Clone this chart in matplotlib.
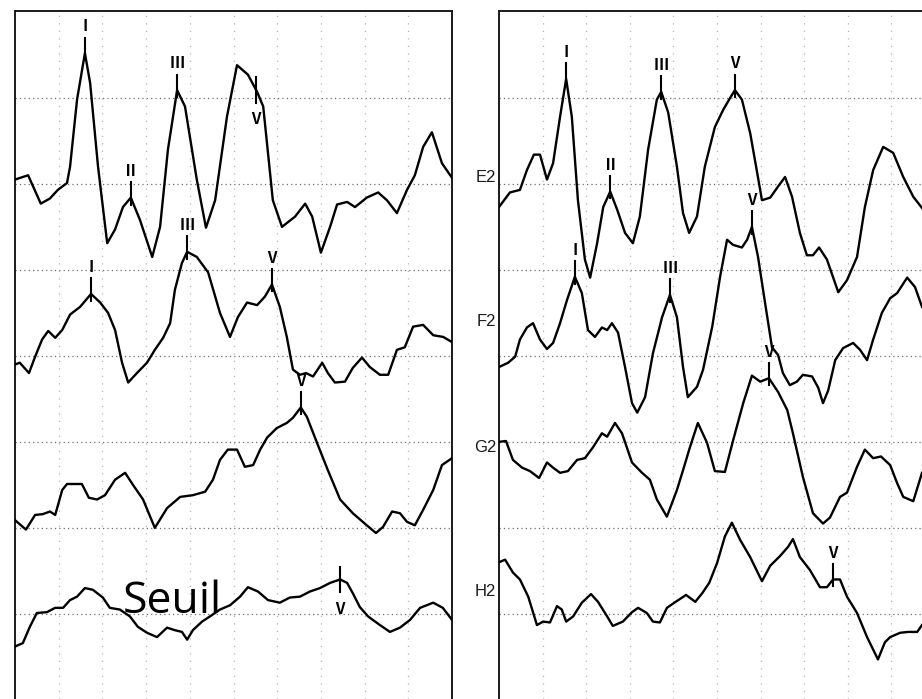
import numpy as np
import matplotlib.pyplot as plt

# ABR recordings, time in ms, amplitude in screen divisions
# left column: 4 stimulus levels down to threshold ("Seuil")
t_a = [0, 0.30, 0.59, 0.80, 0.98, 1.19, 1.26, 1.42, 1.60, 1.72, 1.90, 2.11, 2.29, 2.47, 2.65, 2.86,
       3.14, 3.32, 3.50, 3.71, 3.89, 4.16, 4.37, 4.58, 4.85, 5.08, 5.33, 5.54, 5.68, 5.90, 6.11,
       6.41, 6.64, 6.80, 7.00, 7.21, 7.37, 7.60, 7.78, 8.05, 8.31, 8.51, 8.74, 8.97, 9.15, 9.34,
       9.54, 9.77, 10.0]
a_a = [0.05, 0.10, -0.23, -0.17, -0.07, 0.01, 0.20, 0.98, 1.52, 1.17, 0.20, -0.69, -0.53, -0.27,
       -0.16, -0.42, -0.85, -0.50, 0.40, 1.09, 0.90, 0.05, -0.51, -0.19, 0.78, 1.38, 1.27, 1.07,
       0.90, -0.19, -0.50, -0.38, -0.23, -0.38, -0.80, -0.50, -0.24, -0.21, -0.27, -0.16, -0.10,
       -0.19, -0.34, -0.07, 0.10, 0.43, 0.60, 0.24, 0.07]

t_b = [0, 0.11, 0.32, 0.46, 0.62, 0.76, 0.92, 1.08, 1.26, 1.49, 1.74, 1.95, 2.13, 2.29, 2.45, 2.59,
       2.79, 3.02, 3.20, 3.39, 3.55, 3.66, 3.82, 3.94, 4.16, 4.42, 4.69, 4.92, 5.10, 5.31, 5.54,
       5.72, 5.88, 6.06, 6.22, 6.36, 6.52, 6.66, 6.82, 7.03, 7.16, 7.32, 7.55, 7.73, 7.94, 8.12,
       8.35, 8.54, 8.74, 8.92, 9.11, 9.34, 9.57, 9.80, 10.0]
a_b = [-0.10, -0.08, -0.20, -0.01, 0.19, 0.29, 0.21, 0.30, 0.48, 0.57, 0.72, 0.62, 0.50, 0.30,
       -0.08, -0.31, -0.20, -0.08, 0.07, 0.21, 0.38, 0.77, 1.08, 1.21, 1.15, 0.97, 0.50, 0.22,
       0.45, 0.62, 0.59, 0.69, 0.83, 0.57, 0.22, -0.16, -0.22, -0.20, -0.24, -0.08, -0.20, -0.31,
       -0.30, -0.14, -0.02, -0.13, -0.22, -0.22, 0.07, 0.10, 0.34, 0.36, 0.24, 0.22, 0.16]

t_c = [0, 0.25, 0.46, 0.64, 0.80, 0.92, 1.08, 1.19, 1.53, 1.69, 1.88, 2.06, 2.29, 2.52, 2.70, 2.93,
       3.20, 3.48, 3.78, 4.07, 4.35, 4.53, 4.69, 4.87, 5.08, 5.26, 5.45, 5.61, 5.77, 5.99, 6.22,
       6.36, 6.54, 6.68, 6.91, 7.16, 7.44, 7.73, 8.05, 8.26, 8.42, 8.63, 8.81, 8.97, 9.15, 9.34,
       9.57, 9.77, 10.0]
a_c = [0.09, -0.02, 0.15, 0.16, 0.19, 0.15, 0.44, 0.51, 0.51, 0.35, 0.33, 0.38, 0.56, 0.64, 0.50,
       0.33, 0.00, 0.23, 0.36, 0.38, 0.42, 0.56, 0.79, 0.91, 0.91, 0.71, 0.73, 0.91, 1.05, 1.16,
       1.22, 1.28, 1.40, 1.29, 0.99, 0.67, 0.33, 0.17, 0.03, -0.06, 0.01, 0.19, 0.17, 0.07, 0.03,
       0.21, 0.44, 0.73, 0.81]

t_d = [0, 0.18, 0.34, 0.50, 0.73, 0.92, 1.10, 1.26, 1.42, 1.60, 1.78, 2.01, 2.17, 2.40, 2.63, 2.81,
       3.02, 3.25, 3.48, 3.66, 3.82, 3.94, 4.07, 4.28, 4.46, 4.69, 4.92, 5.15, 5.33, 5.56, 5.79,
       6.06, 6.29, 6.52, 6.75, 6.98, 7.21, 7.44, 7.60, 7.73, 7.89, 8.08, 8.35, 8.58, 8.81, 9.04,
       9.27, 9.57, 9.79, 10.0]
a_d = [-0.38, -0.34, -0.15, 0.01, 0.02, 0.07, 0.07, 0.16, 0.20, 0.30, 0.28, 0.19, 0.07, 0.05,
       -0.03, -0.15, -0.22, -0.27, -0.16, -0.19, -0.21, -0.30, -0.19, -0.09, -0.03, 0.05, 0.10,
       0.20, 0.31, 0.26, 0.16, 0.13, 0.19, 0.20, 0.26, 0.30, 0.36, 0.40, 0.36, 0.24, 0.08, -0.03,
       -0.13, -0.21, -0.16, -0.07, 0.07, 0.13, 0.07, -0.07]

# right column: E2, F2, G2, H2
t_e2 = [0, 0.25, 0.48, 0.64, 0.80, 0.94, 1.10, 1.24, 1.40, 1.54, 1.67, 1.81, 1.97, 2.09, 2.25, 2.39,
        2.55, 2.71, 2.89, 3.07, 3.23, 3.42, 3.62, 3.72, 3.88, 4.08, 4.22, 4.36, 4.54, 4.72, 4.95,
        5.14, 5.30, 5.41, 5.57, 5.76, 5.92, 6.03, 6.22, 6.40, 6.56, 6.72, 6.90, 7.06, 7.20, 7.34,
        7.52, 7.78, 7.98, 8.21, 8.39, 8.58, 8.81, 9.04, 9.27, 9.50, 9.70]
a_e2 = [-0.27, -0.10, -0.07, 0.16, 0.34, 0.34, 0.05, 0.24, 0.78, 1.22, 0.78, -0.19, -0.88, -1.09,
        -0.69, -0.27, -0.09, -0.30, -0.57, -0.69, -0.38, 0.40, 0.98, 1.07, 0.83, 0.20, -0.34,
        -0.57, -0.38, 0.20, 0.66, 0.86, 1.00, 1.09, 0.98, 0.59, 0.13, -0.19, -0.16, -0.03, 0.08,
        -0.15, -0.57, -0.83, -0.83, -0.74, -0.88, -1.26, -1.12, -0.85, -0.27, 0.16, 0.43, 0.36,
        0.08, -0.15, -0.28]

t_f2 = [0, 0.21, 0.37, 0.48, 0.64, 0.78, 0.94, 1.10, 1.24, 1.40, 1.56, 1.74, 1.90, 2.04, 2.20, 2.36,
        2.48, 2.59, 2.73, 2.89, 3.05, 3.17, 3.35, 3.53, 3.74, 3.92, 4.08, 4.22, 4.33, 4.54, 4.68,
        4.89, 5.07, 5.23, 5.37, 5.57, 5.69, 5.80, 5.94, 6.10, 6.26, 6.40, 6.51, 6.67, 6.83, 6.97,
        7.18, 7.32, 7.43, 7.55, 7.71, 7.89, 8.12, 8.28, 8.44, 8.58, 8.78, 8.97, 9.13, 9.36, 9.54,
        9.70]
a_f2 = [-0.13, -0.08, -0.01, 0.19, 0.33, 0.38, 0.19, 0.08, 0.15, 0.38, 0.65, 0.92, 0.73, 0.30,
        0.22, 0.33, 0.30, 0.38, 0.27, -0.13, -0.55, -0.66, -0.48, 0.03, 0.45, 0.71, 0.45, -0.13,
        -0.48, -0.36, -0.16, 0.34, 0.92, 1.35, 1.29, 1.26, 1.35, 1.50, 1.15, 0.62, 0.10, 0.01,
        -0.20, -0.34, -0.30, -0.22, -0.24, -0.37, -0.55, -0.40, -0.05, 0.09, 0.15, 0.07, -0.05,
        0.19, 0.50, 0.67, 0.73, 0.91, 0.80, 0.57]

t_g2 = [0, 0.16, 0.32, 0.53, 0.71, 0.92, 1.10, 1.24, 1.40, 1.58, 1.79, 1.97, 2.16, 2.36, 2.48, 2.66,
        2.82, 3.05, 3.28, 3.46, 3.62, 3.85, 4.08, 4.22, 4.38, 4.56, 4.77, 4.95, 5.18, 5.37, 5.60,
        5.80, 5.99, 6.19, 6.40, 6.61, 6.74, 6.97, 7.20, 7.43, 7.59, 7.82, 7.98, 8.21, 8.39, 8.58,
        8.76, 8.97, 9.13, 9.27, 9.50, 9.70]
a_g2 = [0.00, 0.01, -0.21, -0.30, -0.34, -0.42, -0.24, -0.30, -0.36, -0.34, -0.21, -0.19, -0.06,
        0.10, 0.06, 0.22, 0.10, -0.24, -0.36, -0.44, -0.67, -0.87, -0.56, -0.33, -0.06, 0.22,
        -0.01, -0.34, -0.35, 0.02, 0.45, 0.77, 0.70, 0.74, 0.58, 0.37, 0.10, -0.41, -0.83, -0.95,
        -0.88, -0.64, -0.59, -0.29, -0.09, -0.19, -0.17, -0.27, -0.48, -0.64, -0.69, -0.36]

t_h2 = [0, 0.14, 0.32, 0.48, 0.67, 0.87, 1.01, 1.17, 1.33, 1.44, 1.54, 1.70, 1.90, 2.11, 2.27, 2.48,
        2.61, 2.84, 3.05, 3.19, 3.39, 3.53, 3.69, 3.85, 4.08, 4.29, 4.50, 4.66, 4.82, 5.00, 5.18,
        5.34, 5.53, 5.76, 6.03, 6.22, 6.44, 6.63, 6.74, 6.90, 7.13, 7.36, 7.52, 7.66, 7.82, 7.98,
        8.21, 8.44, 8.69, 8.85, 8.97, 9.20, 9.38, 9.59, 9.70]
a_h2 = [0.60, 0.63, 0.48, 0.40, 0.20, -0.13, -0.09, -0.10, 0.09, 0.05, -0.09, -0.03, 0.13, 0.23,
        0.14, -0.03, -0.14, -0.09, 0.02, 0.07, 0.01, -0.09, -0.10, 0.07, 0.15, 0.22, 0.14, 0.24,
        0.36, 0.59, 0.90, 1.06, 0.86, 0.66, 0.38, 0.56, 0.67, 0.78, 0.87, 0.66, 0.51, 0.31, 0.31,
        0.40, 0.40, 0.20, 0.01, -0.27, -0.53, -0.33, -0.27, -0.22, -0.21, -0.21, -0.13]

# wave labels: (numeral, latency ms, label above trace?)
marks_a = [("Ⅰ", 1.60, True), ("Ⅱ", 2.65, True), ("Ⅲ", 3.71, True), ("Ⅴ", 5.52, False)]
marks_b = [("Ⅰ", 1.74, True), ("Ⅲ", 3.94, True), ("Ⅴ", 5.88, True)]
marks_c = [("Ⅴ", 6.54, True)]
marks_d = [("Ⅴ", 7.44, False)]
marks_e2 = [("Ⅰ", 1.54, True), ("Ⅱ", 2.55, True), ("Ⅲ", 3.72, True), ("Ⅴ", 5.41, True)]
marks_f2 = [("Ⅰ", 1.74, True), ("Ⅲ", 3.92, True), ("Ⅴ", 5.80, True)]
marks_g2 = [("Ⅴ", 6.19, True)]
marks_h2 = [("Ⅴ", 7.66, True)]

numeral_font = ['Noto Sans CJK JP', 'DejaVu Sans']


def setup(ax, xmax, right_frame):
    ax.set_xlim(0, xmax)
    ax.set_ylim(0.01, 8.01)
    for y in range(1, 8):
        ax.axhline(y, color='#6e6e6e', lw=0.9, ls=(0, (1, 2.5)), zorder=1)
    for x in range(1, int(xmax) + 1):
        if x < xmax:
            ax.axvline(x, color='#b5b5b5', lw=0.9, ls=(0, (1, 5)), zorder=1)
    ax.set_xticks([])
    ax.set_yticks([])
    ax.spines['bottom'].set_visible(False)
    ax.spines['right'].set_visible(right_frame)
    for s in ax.spines.values():
        s.set_linewidth(1.4)
        s.set_color('#1a1a1a')


def draw_trace(ax, t, a, base, marks):
    t = np.array(t)
    a = np.array(a) + base
    ax.plot(t, a, color='black', lw=1.7, zorder=3, solid_joinstyle='round')
    for lab, tm, above in marks:
        y = np.interp(tm, t, a)
        if above:
            ax.plot([tm, tm], [y - 0.08, y + 0.18], color='black', lw=1.5, zorder=4)
            ax.text(tm, y + 0.31, lab, ha='center', va='center', fontsize=11,
                    fontweight='bold', family=numeral_font, zorder=5)
        else:
            ax.plot([tm, tm], [y - 0.15, y + 0.15], color='black', lw=1.5, zorder=4)
            ax.text(tm, y - 0.34, lab, ha='center', va='center', fontsize=11,
                    fontweight='bold', family=numeral_font, zorder=5)


fig = plt.figure(figsize=(9.22, 6.99), dpi=100)
ax1 = fig.add_axes([15 / 922, 0, 437 / 922, 688 / 699])
ax2 = fig.add_axes([499 / 922, 0, 423 / 922, 688 / 699])

setup(ax1, 10.0, True)
setup(ax2, 9.70, False)

draw_trace(ax1, t_a, a_a, 6, marks_a)
draw_trace(ax1, t_b, a_b, 4, marks_b)
draw_trace(ax1, t_c, a_c, 2, marks_c)
draw_trace(ax1, t_d, a_d, 1, marks_d)

draw_trace(ax2, t_e2, a_e2, 6, marks_e2)
draw_trace(ax2, t_f2, a_f2, 4, marks_f2)
draw_trace(ax2, t_g2, a_g2, 3, marks_g2)
draw_trace(ax2, t_h2, a_h2, 1, marks_h2)

ax1.text(2.47, 1.01, "Seuil", fontsize=32, family='Open Sans', ha='left', va='baseline', zorder=6)

# channel names next to the right column
for name, py in [("E2", 178), ("F2", 322), ("G2", 448), ("H2", 592)]:
    fig.text(496 / 922, 1 - py / 699, name, ha='right', va='center', fontsize=12,
             family='Liberation Sans', color='#1a1a1a')

fig.savefig("out.png", dpi=100)
